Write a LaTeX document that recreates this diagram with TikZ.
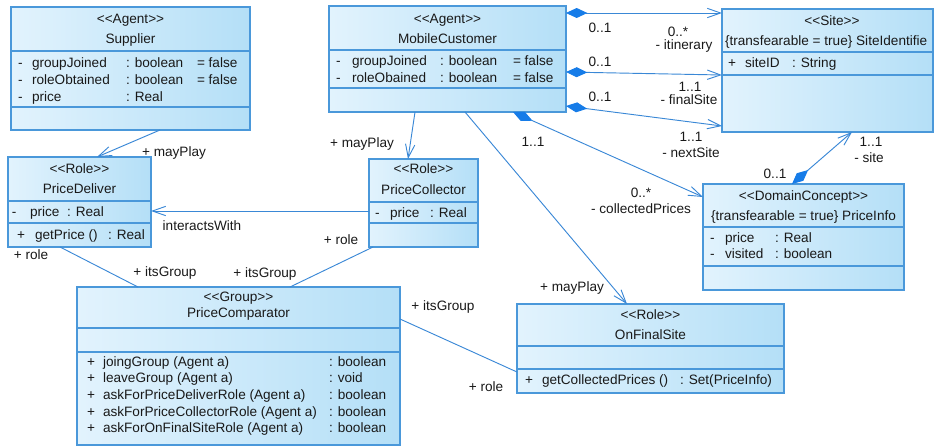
\documentclass[tikz,border=0pt]{standalone}
\usepackage{fontspec}
\setmainfont{Liberation Sans}[Ligatures=TeXOff]
\usetikzlibrary{arrows.meta,calc,fit}

\definecolor{umlborder}{RGB}{74,152,218}
\definecolor{umlline}{RGB}{58,136,214}
\definecolor{umldiam}{RGB}{22,124,232}
\definecolor{umlfillA}{RGB}{226,243,253}
\definecolor{umlfillB}{RGB}{180,223,247}
\newcommand{\umlsize}{\fontsize{10.2}{12}\selectfont}

\tikzset{
  classbox/.style={draw=umlborder, line width=1pt, left color=umlfillA, right color=umlfillB, inner sep=0pt, outer sep=0pt},
  compline/.style={draw=umlborder, line width=1pt},
  umltxt/.style={inner sep=0pt, outer sep=0pt, font=\umlsize, text=black!90},
  nav/.style={draw=umlline, line width=0.7pt, -{Straight Barb[length=10pt,width=7pt]}},
  comp/.style={draw=umlline, line width=0.7pt, {Diamond[color=umldiam,length=16pt,width=7.5pt]}-{Straight Barb[length=10pt,width=7pt]}},
  assoc/.style={draw=umlline, line width=0.7pt}
}

\begin{document}
\begin{tikzpicture}[x=0.75pt, y=-0.75pt]
  \useasboundingbox (0,0) rectangle (934,447);
  % class boxes: name/left/top/right/bottom/first divider/second divider
  \foreach \n/\xa/\ya/\xb/\yb/\da/\db in {sup/11/7/250/130/51/107, mc/329/6/566/112/50/88,
      site/722/9/933/132/52/75, pd/8/157/151/247/201/223, pc/369/159/478/247/202/223,
      pi/703/184/904/290/227/266, pcomp/77/287/400/445/328/352, ofs/517/304/784/393/346/369}{
    \node[classbox, fit={(\xa,\ya) (\xb,\yb)}] (\n) {};
    \draw[compline] (\xa,\da) -- (\xb,\da);
    \draw[compline] (\xa,\db) -- (\xb,\db);
  }

  % stereotypes and class names
  \foreach \b/\xx/\ya/\yb/\st/\nm in {sup/130.5/23/43/Agent/Supplier, mc/447.5/23/43/Agent/MobileCustomer,
      pd/79.5/173/193/Role/PriceDeliver, pc/423.5/173/194/Role/PriceCollector,
      pcomp/238.5/301/317/Group/PriceComparator, ofs/650.5/319/339/Role/OnFinalSite}{
    \node[umltxt, anchor=base] (\b-st) at (\xx,\ya) {<<\st>>};
    \node[umltxt, anchor=base] (\b-nm) at (\xx,\yb) {\nm};
  }
  \node[umltxt, anchor=base] (site-st) at (832,25) {<<Site>>};
  \node[umltxt, anchor=base west] (site-nm) at (725,45) {\{transfearable = true\} SiteIdentifie};
  \node[umltxt, anchor=base] (pi-st) at (803.5,200) {<<DomainConcept>>};
  \node[umltxt, anchor=base] (pi-nm) at (803.5,220) {\{transfearable = true\} PriceInfo};

  % attributes and operations
  \foreach \r/\yy/\xa/\xb/\xc/\sg/\nm/\tp in {
      sup1/67/18/32/126/-/groupJoined/boolean, sup2/84/18/32/126/-/roleObtained/boolean,
      sup3/101/18/32/126/-/price/Real,
      mc1/65/336/352/440/-/groupJoined/boolean, mc2/82/336/352/440/-/roleObained/boolean,
      site1/67/728/745/792/+/siteID/String,
      pd1/216/12/30/67/-/price/Real, pd2/239/17/35/108/+/getPrice ()/Real,
      pc1/217/375/390/430/-/price/Real,
      pi1/242/710/725/775/-/price/Real, pi2/258/710/725/775/-/visited/boolean,
      pcomp1/366/87/103/329/+/joingGroup (Agent a)/boolean,
      pcomp2/382/87/103/329/+/leaveGroup (Agent a)/void,
      pcomp3/399/87/103/329/+/askForPriceDeliverRole (Agent a)/boolean,
      pcomp4/416/87/103/329/+/askForPriceCollectorRole (Agent a)/boolean,
      pcomp5/432/87/103/329/+/askForOnFinalSiteRole (Agent a)/boolean,
      ofs1/384/525/542/680/+/getCollectedPrices ()/Set(PriceInfo)}{
    \node[umltxt, anchor=base west] (\r-v) at (\xa,\yy) {\sg};
    \node[umltxt, anchor=base west] (\r-n) at (\xb,\yy) {\nm};
    \node[umltxt, anchor=base west] (\r-t) at (\xc,\yy) {: \tp};
  }
  \foreach \r/\xx/\yy in {sup1/197/67, sup2/197/84, mc1/513/65, mc2/513/82}
    \node[umltxt, anchor=base west] (\r-d) at (\xx,\yy) {= false};

  % connectors
  \draw[nav] ($(sup.south west)+(149,0)$) -- ($(pd.north west)+(89,0)$);
  \draw[nav] ($(mc.south west)+(86,0)$) -- ($(pc.north west)+(39,0)$);
  \draw[nav] ($(mc.south west)+(136,0)$) -- ($(ofs.north west)+(110,0)$);
  \draw[nav] ($(pc.north west)+(0,52)$) -- ($(pd.north east)+(0,54)$);
  \draw[comp] ($(mc.south west)+(184,0)$) -- ($(pi.north west)+(0,13)$);
  \draw[comp] ($(mc.north east)+(0,7)$) -- ($(site.north west)+(0,4)$);
  \draw[comp] ($(mc.north east)+(0,66)$) -- ($(site.north west)+(0,66)$);
  \draw[comp] ($(mc.north east)+(0,100)$) -- ($(site.north west)+(0,117)$);
  \draw[comp] ($(pi.north west)+(89,0)$) -- ($(site.south west)+(130,0)$);
  \draw[assoc] ($(pd.south west)+(52,0)$) -- ($(pcomp.north west)+(61,0)$);
  \draw[assoc] ($(pc.south west)+(4,0)$) -- ($(pcomp.north west)+(213,0)$);
  \draw[assoc] ($(pcomp.north east)+(0,32)$) -- ($(ofs.north west)+(0,68)$);

  % role names and multiplicities
  \foreach \l/\xx/\yy/\tx in {l1/174/156/+ mayPlay, l2/362/147/+ mayPlay, l3/572/291/+ mayPlay,
      l4/533/146/1..1, l5/641/197/0..*, l6/641/213/- collectedPrices,
      l7/600/32/0..1, l8/678/36/0..*, l9/684/49/- itinerary,
      l10/600/66/0..1, l11/690/91/1..1, l12/689/104/- finalSite,
      l13/600/101/0..1, l14/691/141/1..1, l15/691/157/- nextSite,
      l16/775/178/0..1, l17/871/146/1..1, l18/869/162/- site,
      l19/202/230/interactsWith,
      l20/31/259/+ role, l21/165/276/+ itsGroup,
      l22/341/244/+ role, l23/265/277/+ itsGroup,
      l24/443/310/+ itsGroup, l25/486/391/+ role}
    \node[umltxt, anchor=base] (\l) at (\xx,\yy) {\tx};
\end{tikzpicture}
\end{document}
